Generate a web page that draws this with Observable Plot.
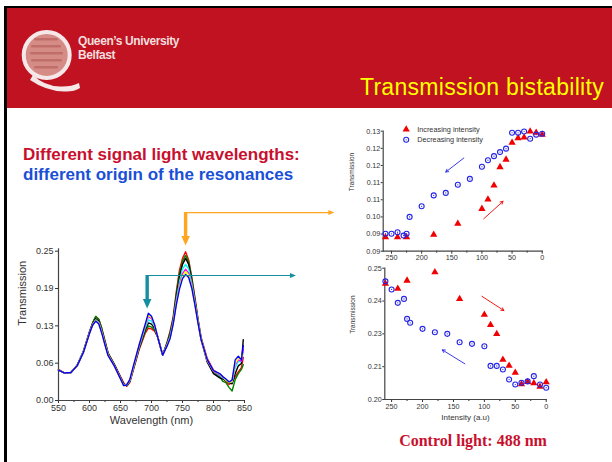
<!DOCTYPE html>
<html lang="en">
<head>
<meta charset="utf-8">
<title>Transmission bistability</title>
<script src="https://cdn.jsdelivr.net/npm/d3@7"></script>
<script src="https://cdn.jsdelivr.net/npm/@observablehq/plot@0.6"></script>
<style>
  html, body { margin: 0; padding: 0; background: #fff; }
  #slide { position: relative; width: 612px; height: 462px; overflow: hidden; background: #fff;
           font-family: Arial, "Liberation Sans", sans-serif; }
  .edge-top { position: absolute; left: 4px; top: 6px; width: 608px; height: 2px; background: #000; }
  .edge-left { position: absolute; left: 4px; top: 6px; width: 2.5px; height: 456px; background: #000; }
  #header { position: absolute; left: 6px; top: 8px; width: 606px; height: 100px; background: #c01220; }
  .abs { position: absolute; white-space: nowrap; line-height: 1; }
  #title { right: 8px; top: 76px; font-size: 23px; letter-spacing: 0.3px; color: #ffff00; }
  .uni { left: 78px; font-size: 12px; font-weight: bold; color: #f3dede; letter-spacing: -0.4px; }
  #uni1 { top: 35.3px; }
  #uni2 { top: 48.8px; }
  .lead { left: 23px; font-size: 17px; font-weight: bold; }
  #lead1 { top: 146.3px; color: #c8102e; }
  #lead2 { top: 165.6px; color: #1a4fd6; }
  #control { left: 473px; top: 433px; transform: translateX(-50%); font-family: "Liberation Serif", "Times New Roman", serif;
             font-weight: bold; font-size: 16px; color: #c8102e; }
  .chart { position: absolute; }
  #spectrum { left: 0; top: 200px; }
  #upper { left: 330px; top: 115px; }
  #lower { left: 330px; top: 262px; }
</style>
</head>
<body>
<div id="slide">
  <div id="header"></div>
  <div class="edge-top"></div>
  <div class="edge-left"></div>
  <svg class="abs" style="left:0;top:0" width="90" height="100" aria-hidden="true">
    <ellipse cx="46.7" cy="55" rx="23" ry="23" fill="#d68c86" stroke="#f6e8e8" stroke-width="4"/>
    <g fill="#b8625e" opacity="0.7">
      <rect x="34" y="38" width="24" height="2.5" rx="1.2"/>
      <rect x="31" y="45" width="30" height="2.5" rx="1.2"/>
      <rect x="30" y="52" width="33" height="2.5" rx="1.2"/>
      <rect x="31" y="59" width="31" height="2.5" rx="1.2"/>
      <rect x="34" y="66" width="24" height="2.5" rx="1.2"/>
    </g>
    <path d="M33 75 Q44 86 60 86.5 Q71 87 79 83 L80 88 Q74 92 64 91.5 Q46 91 30 80 Z" fill="#f6e8e8"/>
  </svg>
  <div class="abs uni" id="uni1">Queen’s University</div>
  <div class="abs uni" id="uni2">Belfast</div>
  <div class="abs" id="title">Transmission bistability</div>
  <div class="abs lead" id="lead1">Different signal light wavelengths:</div>
  <div class="abs lead" id="lead2">different origin of the resonances</div>
  <div class="chart" id="spectrum"></div>
  <div class="chart" id="upper"></div>
  <div class="chart" id="lower"></div>
  <div class="abs" id="control">Control light: 488 nm</div>
</div>
<script>
// Transmission spectra: wavelength grid (nm) and one trace per signal intensity
const wavelengths = [550,560,570,580,590,600,605,610,615,620,625,630,640,650,655,660,665,670,680,690,695,700,705,710,718,725,730,735,740,745,750,755,760,765,770,775,780,790,800,810,815,820,825,830,835,840,845,848];
const traceRed     = [.052,.046,.047,.059,.082,.115,.130,.140,.136,.120,.100,.080,.061,.040,.030,.024,.030,.048,.085,.113,.121,.120,.116,.106,.076,.097,.116,.140,.182,.218,.238,.249,.235,.206,.173,.137,.106,.070,.051,.044,.038,.032,.027,.030,.040,.048,.055,.072];
const traceGreen   = [.051,.046,.047,.059,.082,.115,.130,.141,.136,.120,.099,.079,.060,.039,.028,.025,.032,.050,.087,.116,.125,.123,.118,.106,.076,.096,.114,.138,.178,.212,.233,.243,.232,.204,.170,.135,.104,.066,.048,.040,.032,.030,.022,.016,.035,.045,.052,.060];
const traceBlack   = [.051,.046,.047,.058,.081,.114,.128,.137,.133,.117,.097,.078,.060,.038,.027,.025,.032,.051,.088,.119,.130,.128,.121,.107,.076,.095,.111,.135,.174,.206,.228,.238,.228,.200,.167,.133,.102,.064,.045,.038,.036,.033,.030,.028,.045,.058,.062,.102];
const traceCyan    = [.051,.046,.047,.058,.081,.113,.127,.135,.131,.115,.095,.077,.059,.037,.026,.026,.033,.052,.090,.122,.135,.133,.124,.107,.076,.093,.108,.132,.168,.198,.220,.228,.220,.196,.165,.133,.103,.067,.049,.042,.038,.034,.032,.031,.055,.065,.066,.080];
const traceMagenta = [.051,.046,.047,.058,.080,.113,.127,.134,.130,.114,.094,.076,.058,.037,.025,.026,.034,.053,.091,.125,.141,.137,.126,.107,.076,.092,.106,.130,.164,.192,.212,.220,.213,.192,.162,.131,.102,.067,.049,.043,.039,.035,.031,.033,.060,.068,.066,.085];
const traceYellow  = [.051,.046,.047,.058,.080,.112,.126,.134,.129,.113,.094,.076,.058,.036,.025,.026,.034,.054,.092,.126,.143,.139,.126,.106,.076,.092,.105,.129,.162,.189,.208,.216,.210,.190,.161,.131,.102,.067,.050,.044,.040,.034,.030,.032,.062,.070,.072,.078];
const traceBlue    = [.051,.046,.047,.058,.080,.112,.126,.133,.128,.112,.093,.075,.058,.036,.025,.026,.035,.055,.093,.128,.146,.141,.127,.106,.076,.091,.104,.128,.160,.186,.204,.211,.206,.188,.160,.130,.102,.068,.050,.045,.040,.036,.031,.034,.068,.074,.068,.092];
const traceNames   = ["red", "green", "black", "cyan", "magenta", "yellow", "blue"];
const traceColors  = ["#ff0000", "#00dd00", "#000000", "#00ccff", "#ff00ff", "#ffe600", "#0000ff"];
const spectrumXTicks = [550, 600, 650, 700, 750, 800, 850];
const spectrumXMinor = [575, 625, 675, 725, 775, 825];
const spectrumYTicks = [0, 0.0625, 0.125, 0.1875, 0.25];

// Resonances singled out on the spectrum and carried over to the hysteresis plots
const guideWavelengths = [755, 693];
const guideTops = [0.3147, 0.2093];
const guideTips = [0.2595, 0.154];
const guideEnds = [995, 933];
const guideColors = ["#ffa51f", "#168ea2"];

// Hysteresis loops: transmission versus signal intensity (a.u.)
const intensityUp   = [260, 240, 225, 180, 140, 100, 90, 80, 70, 60, 50, 40, 30, 20, 10, 0];
const intensityDown = [260, 250, 240, 230, 225, 220, 200, 180, 160, 140, 120, 100, 90, 80, 70, 60, 50, 40, 30, 20, 10, 0];
const upperUp   = [0.0933,0.0933,0.0933,0.0941,0.0976,0.1024,0.1054,0.1099,0.1158,0.1182,0.1236,0.1251,0.1253,0.1272,0.1268,0.1262];
const upperDown = [0.0944,0.0944,0.0949,0.0938,0.0944,0.0998,0.1032,0.1067,0.1075,0.1101,0.1120,0.1159,0.1180,0.1193,0.1206,0.1217,0.1268,0.1268,0.1272,0.1249,0.1262,0.1265];
const lowerUp   = [0.2441,0.2422,0.2453,0.2485,0.2383,0.2323,0.2284,0.2250,0.2152,0.2129,0.2102,0.2058,0.2067,0.2062,0.2049,0.2066];
const lowerDown = [0.2450,0.2419,0.2368,0.2383,0.2307,0.2292,0.2269,0.2256,0.2250,0.2218,0.2212,0.2203,0.2128,0.2128,0.2114,0.2076,0.2057,0.2064,0.2069,0.2089,0.2057,0.2045];
const intensityTicks = [250, 200, 150, 100, 50, 0];
const intensityMinor = [225, 175, 125, 75, 25];
const upperYTicks = [0.0888, 0.0943, 0.0998, 0.1053, 0.1108, 0.1163, 0.1218, 0.1273];
const lowerYTicks = [0.20, 0.2125, 0.225, 0.2375, 0.25];
const legendLabels = ["Increasing intensity", "Decreasing intensity"];

// Sweep-direction arrows on each loop
const upperArrows = [
  {x1: 97, y1: 0.0992, x2: 65, y2: 0.1048, sweep: "up"},
  {x1: 130, y1: 0.1187, x2: 160, y2: 0.1142, sweep: "down"}
];
const lowerArrows = [
  {x1: 104, y1: 0.2393, x2: 68.5, y2: 0.2339, sweep: "up"},
  {x1: 131.6, y1: 0.2136, x2: 168, y2: 0.2189, sweep: "down"}
];

const upColor = "#f00000";
const downColor = "#2424e6";
const axisColor = "#444";
const fontFamily = "Arial, 'Liberation Sans', sans-serif";

// Filled arrowheads whose tip sits on the anchoring point
const headDown = (w, h) => ({draw(ctx) { ctx.moveTo(0, 0); ctx.lineTo(-w / 2, -h); ctx.lineTo(w / 2, -h); ctx.closePath(); }});
const headRight = (w, h) => ({draw(ctx) { ctx.moveTo(0, 0); ctx.lineTo(-h, -w / 2); ctx.lineTo(-h, w / 2); ctx.closePath(); }});

const traces = [traceRed, traceGreen, traceBlack, traceCyan, traceMagenta, traceYellow, traceBlue];
const spectrumRows = traceNames.flatMap((name, k) => wavelengths.map((w, i) => ({trace: name, w, t: traces[k][i]})));
const guides = guideWavelengths.map((w, i) => ({w, top: guideTops[i], tip: guideTips[i], end: guideEnds[i], color: guideColors[i]}));

const guideMarks = guides.flatMap(g => [
  Plot.ruleX([g], {x: "w", y1: "top", y2: "tip", stroke: g.color, strokeWidth: 3.4, insetBottom: 8}),
  Plot.dot([g], {x: "w", y: "tip", r: 4, symbol: headDown(8.5, 9.5), fill: g.color, stroke: "none"}),
  Plot.ruleY([g], {y: "top", x1: "w", x2: "end", stroke: g.color, strokeWidth: 1.2, insetRight: 4}),
  Plot.dot([g], {x: "end", y: "top", r: 3, symbol: headRight(5, 6), fill: g.color, stroke: "none"})
]);

const spectrum = Plot.plot({
  width: 340, height: 232,
  marginLeft: 58, marginRight: 96, marginTop: 50.7, marginBottom: 32,
  x: {domain: [550, 850]},
  y: {domain: [0, 0.25]},
  color: {domain: traceNames, range: traceColors},
  style: {background: "none", fontFamily, fontSize: "9px", color: "#333", overflow: "visible"},
  marks: [
    Plot.axisX({ticks: spectrumXTicks, tickSize: 3, tickPadding: 1.5, label: null}),
    Plot.axisX({ticks: spectrumXMinor, tickSize: 2, tickFormat: () => "", label: null}),
    Plot.axisY({ticks: spectrumYTicks, tickFormat: ".2f", tickSize: 3, tickPadding: 2, label: null}),
    Plot.ruleY([0], {x1: 550, x2: 850, stroke: axisColor, strokeWidth: 1.2}),
    Plot.ruleX([550], {y1: 0, y2: 0.254, stroke: axisColor, strokeWidth: 1.2}),
    Plot.line(spectrumRows, {x: "w", y: "t", z: "trace", stroke: "trace", strokeWidth: 1.4}),
    ...guideMarks,
    Plot.text(["Wavelength (nm)"], {text: d => d, frameAnchor: "bottom", dy: 23.3, fontSize: 11, fill: "#333"}),
    Plot.text(["Transmission"], {text: d => d, frameAnchor: "left", rotate: -90, dx: -36, fontSize: 11, fill: "#333"})
  ]
});
document.getElementById("spectrum").append(spectrum);

function loopMarks(up, down, arrows, yTicks, leftDx) {
  const upRows = intensityUp.map((x, i) => ({x, t: up[i]}));
  const downRows = intensityDown.map((x, i) => ({x, t: down[i]}));
  return [
    Plot.axisX({ticks: intensityTicks, tickSize: 3, tickPadding: 1, label: null}),
    Plot.axisX({ticks: intensityMinor, tickSize: 2, tickFormat: () => "", label: null}),
    Plot.axisY({ticks: yTicks, tickFormat: ".2f", tickSize: 2, tickPadding: 1, label: null}),
    Plot.frame({anchor: "left", stroke: axisColor, strokeWidth: 1.2}),
    Plot.frame({anchor: "bottom", stroke: axisColor, strokeWidth: 1.2}),
    Plot.text(["Transmission"], {text: d => d, frameAnchor: "left", rotate: -90, dx: leftDx, fontSize: 6.5, fill: "#333"}),
    Plot.arrow(arrows, {x1: "x1", y1: "y1", x2: "x2", y2: "y2", stroke: d => d.sweep === "up" ? upColor : downColor,
                        strokeWidth: 0.9, headLength: 5}),
    Plot.dot(upRows, {x: "x", y: "t", symbol: "triangle", r: 2.7, fill: upColor, stroke: "none"}),
    Plot.dot(downRows, {x: "x", y: "t", r: 2.5, fill: "none", stroke: downColor, strokeWidth: 1.1}),
    Plot.dot(downRows, {x: "x", y: "t", r: 0.6, fill: downColor, stroke: "none"})
  ];
}

const upper = Plot.plot({
  width: 282, height: 150,
  marginLeft: 52.7, marginRight: 70.3, marginTop: 15.7, marginBottom: 14.3,
  x: {domain: [263.8, 0]},
  y: {domain: [0.0888, 0.1273]},
  style: {background: "none", fontFamily, fontSize: "7.2px", color: "#333", overflow: "visible"},
  marks: [
    ...loopMarks(upperUp, upperDown, upperArrows, upperYTicks, -31),
    Plot.dot([legendLabels[0]], {frameAnchor: "top-left", dx: 23, dy: -1.7, symbol: "triangle", r: 2.7, fill: upColor, stroke: "none"}),
    Plot.dot([legendLabels[1]], {frameAnchor: "top-left", dx: 23, dy: 8.6, r: 2.5, fill: "none", stroke: downColor, strokeWidth: 1.1}),
    Plot.dot([legendLabels[1]], {frameAnchor: "top-left", dx: 23, dy: 8.6, r: 0.6, fill: downColor, stroke: "none"}),
    Plot.text([legendLabels[0]], {text: d => d, frameAnchor: "top-left", dx: 34, dy: -1.7, textAnchor: "start", lineAnchor: "middle", fontSize: 7.3, fill: "#333"}),
    Plot.text([legendLabels[1]], {text: d => d, frameAnchor: "top-left", dx: 34, dy: 8.6, textAnchor: "start", lineAnchor: "middle", fontSize: 7.3, fill: "#333"})
  ]
});
document.getElementById("upper").append(upper);

const lower = Plot.plot({
  width: 282, height: 166,
  marginLeft: 54.3, marginRight: 66.3, marginTop: 5.7, marginBottom: 29,
  x: {domain: [261, 0]},
  y: {domain: [0.20, 0.25]},
  style: {background: "none", fontFamily, fontSize: "7.2px", color: "#333", overflow: "visible"},
  marks: [
    ...loopMarks(lowerUp, lowerDown, lowerArrows, lowerYTicks, -32),
    Plot.text(["Intensity (a.u)"], {text: d => d, frameAnchor: "bottom", dy: 20, fontSize: 8, fill: "#333"})
  ]
});
document.getElementById("lower").append(lower);
</script>
</body>
</html>
